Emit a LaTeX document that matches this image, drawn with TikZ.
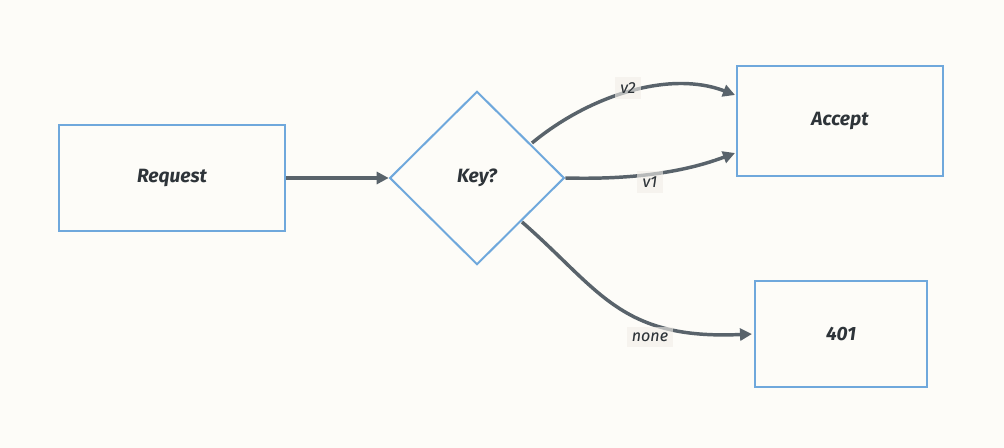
\documentclass[tikz,border=0pt]{standalone}
\usepackage{fontspec}
\setmainfont{Fira Sans}
\usetikzlibrary{shapes.geometric,arrows.meta}
\definecolor{bg}{HTML}{FDFCF8}
\definecolor{bl}{HTML}{6FA8DC}
\definecolor{ar}{HTML}{59636B}
\definecolor{lb}{HTML}{F6F3EE}
\definecolor{tx}{HTML}{2E3439}
\begin{document}
\begin{tikzpicture}[x=0.75pt,y=-0.75pt,
 box/.style={draw=bl,line width=1.5pt,fill=bg,text=tx,font=\itshape\bfseries\Large},
 conn/.style={draw=ar,line width=2.6pt,-{Triangle[length=9pt,width=9pt]}},
 lab/.style={fill=lb,text=tx,font=\itshape\large,inner sep=4pt}]
\fill[bg] (0,0) rectangle (1004,448);
\useasboundingbox (0,0) rectangle (1004,448);
\node[box,minimum width=170pt,minimum height=80pt] (req) at (172,178) {Request};
\node[box,diamond,minimum width=131pt,minimum height=130pt,inner sep=0pt] (key) at (477,178) {Key?};
\node[box,minimum width=155pt,minimum height=82pt] (acc) at (840,121) {Accept};
\node[box,minimum width=129pt,minimum height=80pt] (nf) at (841,334) {401};
\draw[conn] (req.east) -- (key.west);
\coordinate (a2) at (735,95);
\coordinate (a1) at (735,153);
\coordinate (a3) at (752,334);
\node[lab] (l2) at (628,88) {v2};
\node[lab] (l1) at (650,182) {v1};
\node[lab] (l3) at (650,337) {none};
\draw[conn] (532,143) .. controls (590,95) and (670,70) .. (a2);
\draw[conn] (key.east) .. controls (640,180) and (690,170) .. (a1);
\draw[conn] (522,222) .. controls (600,290) and (620,340) .. (a3);
\node[lab,fill opacity=0.6,text opacity=1] at (628,88) {v2};
\node[lab,fill opacity=0.6,text opacity=1] at (650,182) {v1};
\node[lab,fill opacity=0.6,text opacity=1] at (650,337) {none};
\end{tikzpicture}
\end{document}
